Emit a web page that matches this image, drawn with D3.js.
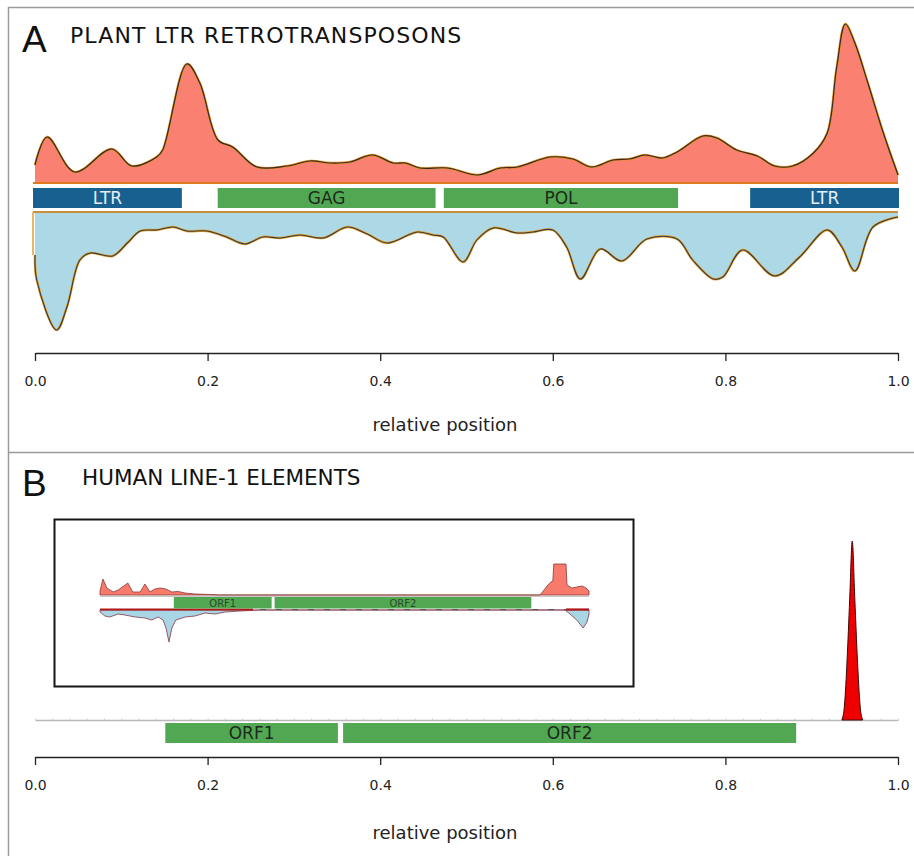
<!DOCTYPE html>
<html><head><meta charset="utf-8">
<script src="https://cdn.jsdelivr.net/npm/d3@7"></script>
<style>body{margin:0;background:#fff}svg{display:block}</style>
</head><body><div id="chart"></div>
<script>
// ---------- DATA ----------
const tickValues = [0, 0.2, 0.4, 0.6, 0.8, 1.0];
const axisTitle = "relative position";

// Panel A: plant LTR retrotransposons
const plantTitle = "PLANT LTR RETROTRANSPOSONS";
const plantFeatures = ["LTR", "GAG", "POL", "LTR"];
const plantStarts = [0.0, 0.214, 0.476, 0.831];
const plantEnds = [0.169, 0.463, 0.744, 1.0];
const plantKinds = ["ltr", "gene", "gene", "ltr"];
// upper density (sense)
const plantUpPos = [0.000,0.014,0.046,0.089,0.112,0.141,0.148,0.176,0.191,0.212,0.229,0.257,0.292,0.319,0.342,0.365,0.391,0.415,0.429,0.446,0.478,0.513,0.539,0.559,0.597,0.623,0.645,0.670,0.689,0.707,0.727,0.744,0.774,0.790,0.813,0.837,0.857,0.878,0.902,0.918,0.929,0.939,0.950,0.964,0.983,1.000];
const plantUpVal = [0.18,0.46,0.11,0.34,0.17,0.26,0.33,1.19,1.00,0.43,0.36,0.16,0.17,0.22,0.20,0.21,0.28,0.20,0.20,0.15,0.15,0.08,0.15,0.16,0.26,0.24,0.16,0.23,0.24,0.28,0.25,0.31,0.47,0.45,0.33,0.27,0.17,0.17,0.30,0.50,1.16,1.59,1.40,1.03,0.50,0.08];
// lower density (antisense)
const plantDownPos = [0.000,0.002,0.025,0.037,0.052,0.064,0.090,0.107,0.122,0.141,0.160,0.176,0.199,0.222,0.243,0.264,0.284,0.307,0.334,0.362,0.385,0.408,0.443,0.461,0.473,0.496,0.512,0.531,0.559,0.577,0.600,0.616,0.632,0.655,0.680,0.709,0.744,0.762,0.786,0.797,0.820,0.857,0.886,0.918,0.935,0.950,0.971,1.000];
const plantDownVal = [0.43,0.68,1.18,0.95,0.48,0.41,0.44,0.31,0.19,0.18,0.15,0.19,0.19,0.25,0.32,0.25,0.26,0.23,0.26,0.15,0.22,0.31,0.20,0.23,0.25,0.50,0.28,0.16,0.21,0.20,0.18,0.35,0.67,0.37,0.49,0.27,0.27,0.48,0.67,0.65,0.38,0.64,0.45,0.18,0.35,0.59,0.15,0.05];

// Panel B: human LINE-1 elements
const humanTitle = "HUMAN LINE-1 ELEMENTS";
const humanFeatures = ["ORF1", "ORF2"];
const humanStarts = [0.151, 0.357];
const humanEnds = [0.351, 0.882];
const spikePos = [0.935,0.938,0.941,0.944,0.947,0.950,0.953,0.956,0.959];
const spikeVal = [0.00,0.15,0.60,1.20,1.79,1.20,0.60,0.15,0.00];
// inset (older LINE-1 profile)
const insetUpPos = [0.000,0.006,0.014,0.027,0.037,0.057,0.067,0.082,0.092,0.102,0.112,0.123,0.135,0.147,0.160,0.174,0.194,0.225,0.245,0.900,0.916,0.922,0.926,0.928,0.953,0.955,0.965,0.975,0.986,0.994,1.000];
const insetUpVal = [0.4,1.6,0.7,0.3,0.5,1.2,0.3,0.3,1.1,0.3,0.6,0.7,0.6,0.3,0.35,0.2,0.1,0.05,0,0,1.0,1.3,1.4,3.1,3.1,1.0,0.7,0.8,0.9,0.7,0.4];
const insetDownPos = [0.000,0.010,0.020,0.037,0.051,0.072,0.092,0.106,0.119,0.129,0.135,0.141,0.147,0.155,0.174,0.194,0.215,0.235,0.256,0.286,0.327,0.951,0.961,0.975,0.988,0.996,1.000];
const insetDownVal = [0.2,0.6,0.7,0.4,0.5,0.7,0.8,1.0,0.7,1.0,1.8,3.2,1.8,1.0,0.7,0.6,0.3,0.4,0.2,0.1,0,0,0.4,1.0,1.8,1.2,0.4];

// ---------- DRAW ----------
const W = 914, H = 856;
const svg = d3.select("#chart").append("svg").attr("width", W).attr("height", H);
const x = d3.scaleLinear().domain([0, 1]).range([35, 898]);
const zip = (a, b) => a.map((v, i) => [v, b[i]]);

// panel frame
const frame = svg.append("g").attr("stroke", "#9a9a9a").attr("stroke-width", 1.5).attr("fill", "none");
frame.append("line").attr("x1", 8).attr("x2", W).attr("y1", 7.5).attr("y2", 7.5);
frame.append("line").attr("x1", 8.5).attr("x2", 8.5).attr("y1", 7).attr("y2", H);
frame.append("line").attr("x1", 8).attr("x2", W).attr("y1", 452.5).attr("y2", 452.5);

function letter(t, y) {
  svg.append("text").attr("x", 22).attr("y", y).text(t)
    .attr("font-family", "Liberation Sans, Arial, sans-serif").attr("font-size", 37).attr("fill", "#111");
}
function title(t, xx, y, size, ls) {
  svg.append("text").attr("x", xx).attr("y", y).text(t)
    .attr("font-family", "DejaVu Sans, sans-serif").attr("font-size", size)
    .attr("letter-spacing", ls).attr("fill", "#111");
}
function bottomAxis(yPos, labelY, titleY) {
  const g = svg.append("g").attr("transform", `translate(0,${yPos})`)
    .call(d3.axisBottom(x).tickValues(tickValues).tickSize(8).tickSizeOuter(0).tickFormat(d3.format(".1f")));
  g.select(".domain").attr("stroke", "#222").attr("stroke-width", 1.3);
  g.selectAll(".tick line").attr("stroke", "#222").attr("stroke-width", 1.3);
  g.selectAll(".tick text").attr("y", labelY - yPos).attr("dy", 0)
    .attr("font-family", "DejaVu Sans, sans-serif").attr("font-size", 14).attr("fill", "#222");
  svg.append("text").attr("x", 445).attr("y", titleY).attr("text-anchor", "middle")
    .attr("font-family", "DejaVu Sans, sans-serif").attr("font-size", 18).attr("fill", "#222").text(axisTitle);
}

// ----- Panel A -----
letter("A", 52);
title(plantTitle, 70, 43, 22, 1.1);

const upBase = 183, downBase = 212;
const yUp = d3.scaleLinear().domain([0, 1.6]).range([upBase, upBase - 160]);
const yDown = d3.scaleLinear().domain([0, 1.2]).range([downBase, downBase + 120]);
const upData = zip(plantUpPos, plantUpVal);
const downData = zip(plantDownPos, plantDownVal);
const curve = d3.curveCatmullRom.alpha(0.5);

svg.append("path").datum(upData).attr("fill", "#fa8072")
  .attr("d", d3.area().x(d => x(d[0])).y0(upBase).y1(d => yUp(d[1])).curve(curve));
svg.append("path").datum(upData).attr("fill", "none").attr("stroke", "#e0902a").attr("stroke-width", 2.4)
  .attr("d", d3.line().x(d => x(d[0])).y(d => yUp(d[1])).curve(curve));
svg.append("path").datum(upData).attr("fill", "none").attr("stroke", "#3a2a22").attr("stroke-width", 1.2)
  .attr("d", d3.line().x(d => x(d[0])).y(d => yUp(d[1])).curve(curve));
svg.append("line").attr("x1", x(0) - 2).attr("x2", x(1)).attr("y1", upBase).attr("y2", upBase)
  .attr("stroke", "#e07a20").attr("stroke-width", 2.2);

svg.append("path").datum(downData).attr("fill", "#add8e6")
  .attr("d", d3.area().x(d => x(d[0])).y0(downBase).y1(d => yDown(d[1])).curve(curve));
svg.append("path").datum(downData).attr("fill", "none").attr("stroke", "#e0a030").attr("stroke-width", 2.4)
  .attr("d", d3.line().x(d => x(d[0])).y(d => yDown(d[1])).curve(curve));
svg.append("path").datum(downData).attr("fill", "none").attr("stroke", "#3a3a3a").attr("stroke-width", 1.1)
  .attr("d", d3.line().x(d => x(d[0])).y(d => yDown(d[1])).curve(curve));
svg.append("line").attr("x1", x(0) - 2).attr("x2", x(1)).attr("y1", downBase).attr("y2", downBase)
  .attr("stroke", "#c8903a").attr("stroke-width", 2);
svg.append("line").attr("x1", x(0) - 2).attr("x2", x(0) - 2).attr("y1", downBase).attr("y2", yDown(plantDownVal[0]))
  .attr("stroke", "#e0a030").attr("stroke-width", 1.5);

const barsA = svg.append("g");
plantFeatures.forEach((f, i) => {
  const x0 = x(plantStarts[i]) - 2, x1 = x(plantEnds[i]) + 1;
  barsA.append("rect").attr("x", x0).attr("y", 188).attr("width", x1 - x0).attr("height", 20)
    .attr("fill", plantKinds[i] === "ltr" ? "#17608f" : "#52a852");
  barsA.append("text").attr("x", (x0 + x1) / 2).attr("y", 204).attr("text-anchor", "middle")
    .attr("font-family", "DejaVu Sans, sans-serif").attr("font-size", 17)
    .attr("fill", plantKinds[i] === "ltr" ? "#e6eef6" : "#1c2a1c").text(f);
});

bottomAxis(353, 386, 431);

// ----- Panel B -----
letter("B", 496);
title(humanTitle, 82, 485, 21.5, 0);

// inset box
svg.append("rect").attr("x", 54.5).attr("y", 519.5).attr("width", 579).attr("height", 167)
  .attr("fill", "#fff").attr("stroke", "#151515").attr("stroke-width", 2);
const xi = d3.scaleLinear().domain([0, 1]).range([100, 589]);
const insUpBase = 595, insDownBase = 610;
const yiUp = d3.scaleLinear().domain([0, 1]).range([insUpBase, insUpBase - 10]);
const yiDown = d3.scaleLinear().domain([0, 1]).range([insDownBase, insDownBase + 10]);
const insUp = zip(insetUpPos, insetUpVal), insDown = zip(insetDownPos, insetDownVal);
svg.append("path").datum(insUp).attr("fill", "#f77a6c").attr("stroke", "#8a3a36").attr("stroke-width", 0.8)
  .attr("d", d3.area().x(d => xi(d[0])).y0(insUpBase).y1(d => yiUp(d[1])));
svg.append("line").attr("x1", xi(0)).attr("x2", xi(1)).attr("y1", 596.5).attr("y2", 596.5)
  .attr("stroke", "#c8c8c8").attr("stroke-width", 1);
svg.append("path").datum(insDown).attr("fill", "#a9d6e5").attr("stroke", "#8a4a5a").attr("stroke-width", 0.9)
  .attr("d", d3.area().x(d => xi(d[0])).y0(insDownBase).y1(d => yiDown(d[1])));
svg.append("line").attr("x1", xi(0)).attr("x2", xi(1)).attr("y1", 609.5).attr("y2", 609.5)
  .attr("stroke", "#555").attr("stroke-width", 1.2).attr("stroke-dasharray", "6,10");
svg.append("line").attr("x1", xi(0)).attr("x2", xi(0.313)).attr("y1", 609.5).attr("y2", 609.5)
  .attr("stroke", "#b01818").attr("stroke-width", 2.2);
svg.append("line").attr("x1", xi(0.953)).attr("x2", xi(1)).attr("y1", 609.5).attr("y2", 609.5)
  .attr("stroke", "#b01818").attr("stroke-width", 2.2);
humanFeatures.forEach((f, i) => {
  const x0 = xi(humanStarts[i]), x1 = xi(humanEnds[i]);
  svg.append("rect").attr("x", x0).attr("y", 597).attr("width", x1 - x0).attr("height", 11.5).attr("fill", "#52a852");
  svg.append("text").attr("x", (x0 + x1) / 2).attr("y", 606.5).attr("text-anchor", "middle")
    .attr("font-family", "DejaVu Sans, sans-serif").attr("font-size", 10).attr("fill", "#2a4a2a").text(f);
});

// main B plot
const spikeBase = 720;
const ySpike = d3.scaleLinear().domain([0, 1.79]).range([spikeBase, 541]);
const rug = svg.append("g").attr("transform", `translate(0,${spikeBase})`)
  .call(d3.axisTop(x).ticks(50).tickSize(1.5).tickSizeOuter(0).tickFormat(""));
rug.select(".domain").attr("stroke", "#b8b8b8").attr("stroke-width", 1.5);
rug.selectAll(".tick line").attr("stroke", "#cfcfcf");
svg.append("path").datum(zip(spikePos, spikeVal)).attr("fill", "#ee0000").attr("stroke", "#3a0a0a").attr("stroke-width", 1)
  .attr("d", d3.area().x(d => x(d[0])).y0(spikeBase).y1(d => ySpike(d[1])).curve(d3.curveMonotoneX));

humanFeatures.forEach((f, i) => {
  const x0 = x(humanStarts[i]), x1 = x(humanEnds[i]);
  svg.append("rect").attr("x", x0).attr("y", 723).attr("width", x1 - x0).attr("height", 20).attr("fill", "#52a852");
  svg.append("text").attr("x", (x0 + x1) / 2).attr("y", 739).attr("text-anchor", "middle")
    .attr("font-family", "DejaVu Sans, sans-serif").attr("font-size", 17).attr("fill", "#1c2a1c").text(f);
});

bottomAxis(757, 790, 839);
</script></body></html>
